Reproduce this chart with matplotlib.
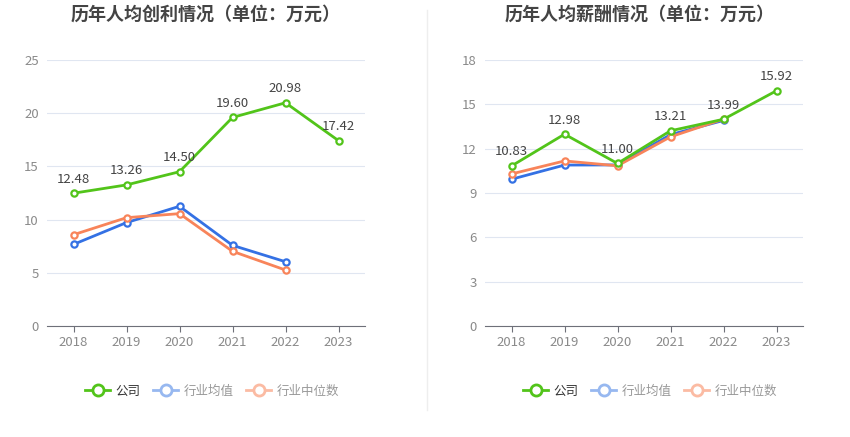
import matplotlib.pyplot as plt
from matplotlib.lines import Line2D

plt.rcParams['font.family'] = ['Noto Sans CJK SC', 'DejaVu Sans']

# ================= 数据 =================
years = ['2018', '2019', '2020', '2021', '2022', '2023']

profit_company = [12.48, 13.26, 14.50, 19.60, 20.98, 17.42]
profit_avg = [7.67, 9.72, 11.25, 7.58, 6.04]
profit_median = [8.58, 10.18, 10.56, 7.02, 5.26]

salary_company = [10.83, 12.98, 11.00, 13.21, 13.99, 15.92]
salary_avg = [9.93, 10.89, 10.90, 12.95, 13.91]
salary_median = [10.29, 11.17, 10.84, 12.80, 14.00]

# ================= 样式 =================
C_GREEN = '#52c41a'
C_BLUE = '#3471e4'
C_ORANGE = '#f8845a'
C_GRID = '#e0e6f1'
C_TICK = '#8a8a8a'
W, H = 850, 437

fig = plt.figure(figsize=(W / 100, H / 100), dpi=100)


def px_axes(x0, x1, y_top, y_bot):
    return fig.add_axes([x0 / W, 1 - y_bot / H, (x1 - x0) / W, (y_bot - y_top) / H])


def draw_panel(ax, title, comp, avg, med, ymax, step, title_x):
    x = list(range(len(years)))
    kw = dict(lw=2, marker='o', ms=4.5, mfc='white', mew=1.6, zorder=3, clip_on=False)
    ax.plot(x[:len(avg)], avg, color=C_BLUE, **kw)
    ax.plot(x[:len(med)], med, color=C_ORANGE, **kw)
    ax.plot(x, comp, color=C_GREEN, **kw)
    for xi, v in zip(x, comp):
        ax.annotate(f'{v:.2f}', (xi, v), xytext=(0, 5.5), textcoords='offset points',
                    ha='center', va='bottom', fontsize=9.5, color='#444444')
    ax.set_xlim(-0.5, len(years) - 0.5)
    ax.set_ylim(0, ymax)
    ax.set_yticks(range(0, ymax + 1, step))
    ax.set_xticks(x)
    ax.set_xticklabels(years)
    ax.grid(axis='y', color=C_GRID, lw=0.8)
    ax.set_axisbelow(True)
    for s in ['top', 'right', 'left']:
        ax.spines[s].set_visible(False)
    ax.spines['bottom'].set_color('#6e7079')
    ax.tick_params(axis='y', length=0, labelsize=9.5, labelcolor=C_TICK, pad=6)
    ax.tick_params(axis='x', length=4, color='#6e7079', labelsize=9.5, labelcolor=C_TICK)
    fig.text(title_x / W, 1 - 14 / H, title, ha='center', va='center',
             fontsize=13, fontweight='bold', color='#444444')

    handles = [
        Line2D([], [], color=C_GREEN, lw=2, marker='o', ms=8, mfc='white', mew=2),
        Line2D([], [], color='#97b8f0', lw=2, marker='o', ms=8, mfc='white', mew=2),
        Line2D([], [], color='#fbbba3', lw=2, marker='o', ms=8, mfc='white', mew=2),
    ]
    leg = ax.legend(handles, ['公司', '行业均值', '行业中位数'], loc='center',
                    bbox_to_anchor=(0.52, -0.245), ncol=3, frameon=False,
                    fontsize=9, handlelength=2.0, columnspacing=1.0, handletextpad=0.45)
    for i, t in enumerate(leg.get_texts()):
        t.set_color('#333333' if i == 0 else '#999999')


ax1 = px_axes(47, 365, 60, 326)
draw_panel(ax1, '历年人均创利情况（单位：万元）', profit_company, profit_avg, profit_median,
           25, 5, 206)

ax2 = px_axes(485, 803, 60, 326)
draw_panel(ax2, '历年人均薪酬情况（单位：万元）', salary_company, salary_avg, salary_median,
           18, 3, 640)

fig.add_artist(Line2D([427 / W, 427 / W], [1 - 10 / H, 1 - 410 / H], color='#eeeeee', lw=1))

fig.savefig('out.png', dpi=100)
